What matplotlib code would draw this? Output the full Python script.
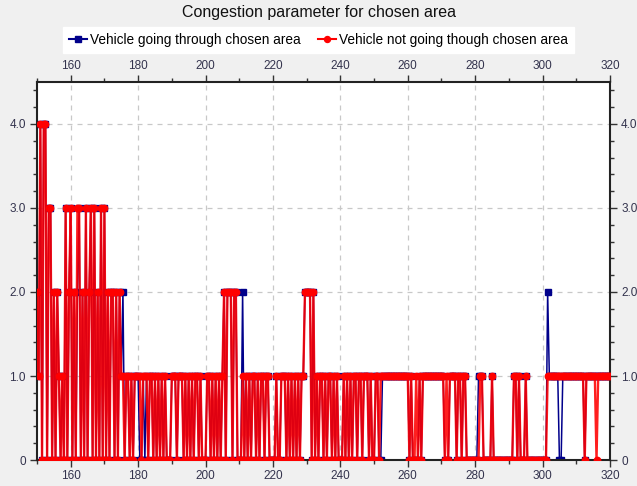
import matplotlib
matplotlib.use("Agg")
import matplotlib.pyplot as plt
from matplotlib.lines import Line2D
from matplotlib.ticker import MultipleLocator, FixedLocator

plt.rcParams['font.family'] = ['Liberation Sans', 'DejaVu Sans']

# sample times: 150 .. 320 in half steps
time = [150 + 0.5 * i for i in range(341)]

# Vehicle going through chosen area (blue), one row = 10 time units
through = [
    2, 1, 4, 0, 4, 4, 0, 3, 3, 0, 2, 0, 2, 1, 0, 1, 0, 3, 0, 2,   # 150
    3, 0, 2, 0, 2, 3, 0, 2, 0, 3, 0, 2, 3, 0, 3, 0, 2, 0, 3, 0,   # 160
    3, 0, 2, 0, 2, 2, 0, 2, 0, 2, 1, 2, 0, 1, 1, 0, 1, 0, 1, 1,   # 170
    1, 0, 0, 1, 0, 1, 0, 1, 1, 0, 1, 0, 1, 0, 1, 0, 1, 0, 0, 0,   # 180
    1, 1, 1, 0, 1, 1, 1, 0, 1, 0, 1, 0, 1, 0, 1, 1, 0, 1, 0, 0,   # 190
    0, 1, 1, 0, 1, 0, 1, 0, 1, 0, 1, 2, 0, 2, 2, 2, 0, 2, 2, 0,   # 200
    0, 0, 2, 0, 1, 0, 1, 0, 1, 1, 0, 1, 0, 1, 1, 0, 1, 1, 0, 0,   # 210
    0, 0, 1, 0, 0, 1, 1, 1, 0, 1, 0, 1, 0, 1, 0, 1, 0, 1, 1, 2,   # 220
    2, 2, 2, 0, 2, 0, 1, 0, 1, 1, 0, 1, 0, 1, 1, 0, 1, 0, 1, 0,   # 230
    0, 0, 1, 0, 1, 0, 1, 0, 1, 1, 0, 1, 1, 0, 1, 1, 1, 0, 1, 0,   # 240
    0, 1, 1, 0, 0, 1, 1, 1, 1, 1, 1, 1, 1, 1, 1, 1, 1, 1, 1, 1,   # 250
    1, 0, 1, 0, 0, 0, 0, 1, 0, 1, 1, 1, 1, 1, 1, 1, 1, 1, 1, 1,   # 260
    1, 1, 0, 0, 0, 1, 1, 1, 1, 0, 1, 1, 0, 1, 1, 0, 0, 0, 0, 0,   # 270
    0, 0, 1, 1, 1, 0, 0, 0, 0, 0, 1, 0, 0, 0, 0, 0, 0, 0, 0, 0,   # 280
    0, 0, 0, 1, 1, 0, 1, 0, 0, 0, 1, 0, 0, 0, 0, 0, 0, 0, 0, 0,   # 290
    0, 0, 0, 2, 1, 1, 1, 1, 1, 1, 0, 0, 1, 1, 1, 1, 1, 1, 1, 1,   # 300
    1, 1, 1, 1, 1, 0, 1, 1, 1, 1, 1, 1, 1, 1, 1, 1, 1, 1, 1, 1,   # 310
    1,                                                            # 320
]

# Vehicle not going through chosen area (red)
not_through = [
    2, 1, 4, 0, 4, 4, 0, 3, 3, 0, 2, 0, 2, 1, 0, 1, 0, 3, 0, 2,   # 150
    3, 0, 2, 0, 3, 3, 0, 2, 0, 3, 0, 2, 3, 0, 3, 0, 2, 0, 3, 0,   # 160
    3, 0, 2, 0, 2, 2, 0, 2, 0, 2, 1, 1, 0, 1, 1, 0, 1, 0, 1, 1,   # 170
    1, 1, 0, 1, 1, 1, 0, 1, 1, 0, 1, 0, 1, 0, 1, 0, 1, 0, 0, 0,   # 180
    1, 1, 1, 0, 1, 1, 1, 0, 1, 0, 1, 0, 1, 0, 1, 1, 0, 1, 0, 0,   # 190
    0, 1, 1, 0, 1, 0, 1, 0, 1, 0, 1, 2, 0, 2, 2, 2, 0, 2, 2, 0,   # 200
    0, 0, 1, 0, 1, 0, 1, 0, 1, 1, 0, 1, 0, 1, 1, 0, 1, 1, 0, 0,   # 210
    0, 0, 1, 0, 0, 1, 1, 1, 0, 1, 0, 1, 0, 1, 0, 1, 0, 1, 1, 2,   # 220
    2, 2, 2, 0, 2, 0, 1, 0, 1, 1, 0, 1, 0, 1, 1, 0, 1, 0, 1, 0,   # 230
    0, 0, 1, 0, 1, 0, 1, 0, 1, 1, 0, 1, 1, 0, 1, 1, 1, 0, 1, 0,   # 240
    0, 1, 1, 0, 1, 1, 1, 1, 1, 1, 1, 1, 1, 1, 1, 1, 1, 1, 1, 1,   # 250
    1, 0, 1, 0, 0, 1, 0, 1, 0, 1, 1, 1, 1, 1, 1, 1, 1, 1, 1, 1,   # 260
    1, 1, 0, 1, 0, 1, 1, 1, 1, 0, 1, 1, 0, 1, 1, 0, 0, 0, 0, 0,   # 270
    0, 0, 0, 1, 1, 0, 0, 0, 0, 0, 1, 0, 0, 0, 0, 0, 0, 0, 0, 0,   # 280
    0, 0, 0, 1, 1, 0, 1, 0, 0, 0, 1, 0, 0, 0, 0, 0, 0, 0, 0, 0,   # 290
    0, 0, 0, 1, 1, 1, 1, 1, 1, 1, 1, 1, 1, 1, 1, 1, 1, 1, 1, 1,   # 300
    1, 1, 1, 1, 1, 0, 1, 1, 1, 1, 1, 1, 0, 1, 1, 1, 1, 1, 1, 1,   # 310
    1,                                                            # 320
]

title = "Congestion parameter for chosen area"
label_through = "Vehicle going through chosen area"
label_not = "Vehicle not going though chosen area"
x_ticks = [160, 180, 200, 220, 240, 260, 280, 300, 320]
y_ticks = [0, 1, 2, 3, 4]
y_tick_labels = ["0", "1.0", "2.0", "3.0", "4.0"]

blue = '#00008b'
red = '#ff0000'

fig = plt.figure(figsize=(6.37, 4.86), dpi=100, facecolor='#f0f0f0')
ax = fig.add_axes([37/637, 1 - 460/486, (610-37)/637, (460-82)/486])
ax.set_facecolor('white')

# blue series (underneath)
ax.plot(time, through, color=blue, lw=1.1, zorder=2)
ax.plot(time, through, ls='none', marker='s', ms=4.0, mec=blue, mfc=blue, zorder=2.5)
# red series (on top)
ax.plot(time, not_through, color=red, lw=1.7, alpha=0.88, zorder=3)
ax.plot(time, not_through, ls='none', marker='o', ms=4.6, mec=red, mfc=red, zorder=3.5)

ax.set_xlim(150, 320)
ax.set_ylim(0, 4.5)

ax.xaxis.set_major_locator(FixedLocator(x_ticks))
ax.xaxis.set_minor_locator(MultipleLocator(10))
ax.yaxis.set_major_locator(FixedLocator(y_ticks))
ax.yaxis.set_minor_locator(MultipleLocator(0.2))
ax.set_yticklabels(y_tick_labels)

lab_color = '#33334d'
ax.tick_params(axis='both', which='both', direction='out', top=True, right=True,
               labeltop=True, labelright=True, labelsize=8.5, labelcolor=lab_color,
               color='#333333')
ax.tick_params(axis='both', which='major', length=5, width=1)
ax.tick_params(axis='both', which='minor', length=3, width=1)
ax.tick_params(axis='x', pad=2)
ax.tick_params(axis='y', pad=3)

for s in ax.spines.values():
    s.set_color('#222222')
    s.set_linewidth(1.5)

ax.grid(True, which='major', color='#c8c8c8', linestyle=(0, (4, 4)), linewidth=0.9)
ax.set_axisbelow(True)

fig.text(0.5, 1 - 13/486, title, ha='center', va='center', fontsize=11.5, color='#111111')

handles = [
    Line2D([], [], color=blue, lw=1.5, marker='s', ms=4.3, mfc=blue, mec=blue),
    Line2D([], [], color=red, lw=1.5, marker='o', ms=4.3, mfc=red, mec=red),
]
leg = fig.legend(handles, [label_through, label_not], loc='center',
                 bbox_to_anchor=(0.5, 1 - 40/486), ncol=2,
                 fontsize=9.8, frameon=True, fancybox=False, handlelength=1.3,
                 handletextpad=0.2, columnspacing=1.3, borderpad=0.45)
leg.get_frame().set_facecolor('white')
leg.get_frame().set_edgecolor('white')
leg.get_frame().set_alpha(1)

fig.savefig('out.png', dpi=100, facecolor=fig.get_facecolor())
